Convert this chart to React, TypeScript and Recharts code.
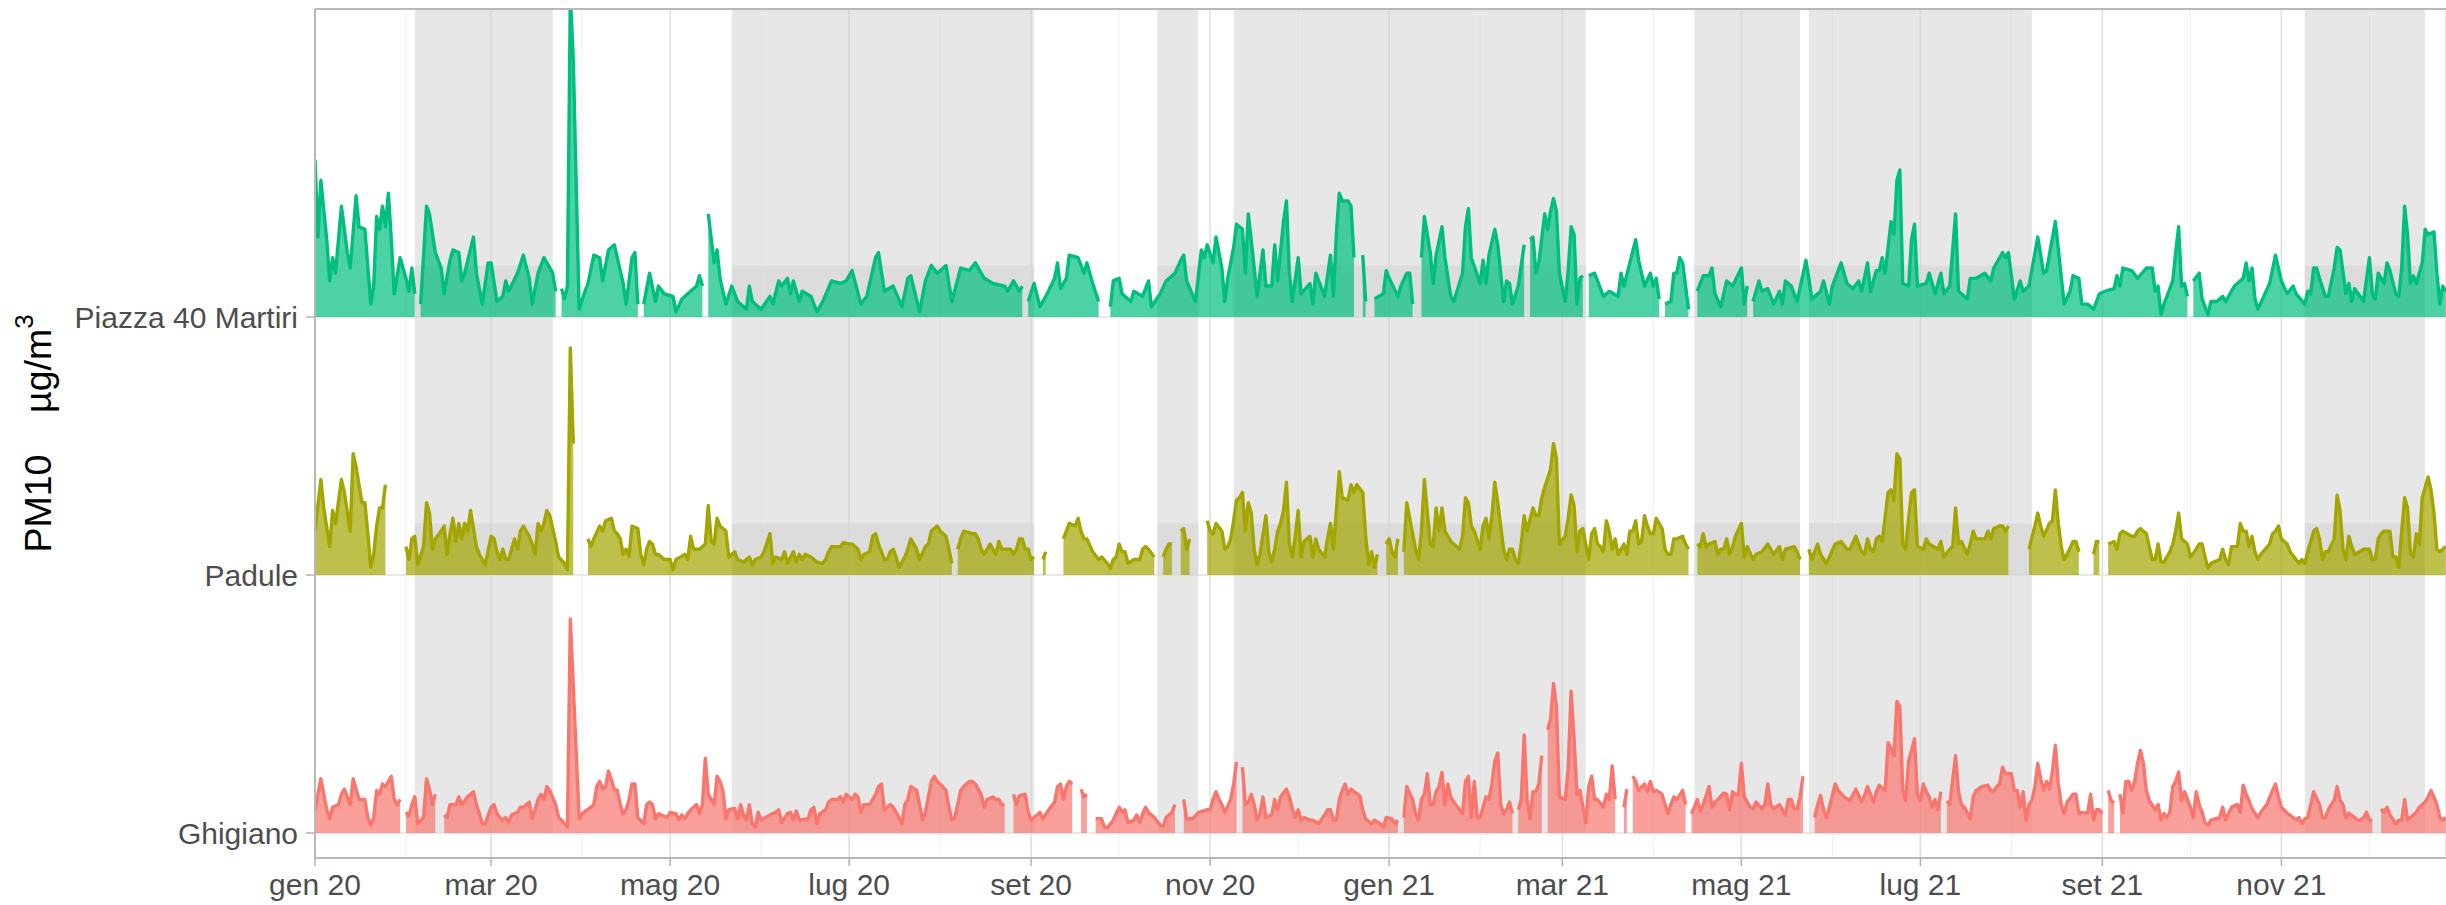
import React from "react";
import {
  ComposedChart,
  Area,
  XAxis,
  YAxis,
  CartesianGrid,
  ReferenceArea,
  ReferenceLine,
} from "recharts";

type Pt = [number, number | null];

// day index from 1 Jan 2020, PM10 in µg/m³ (null = no data)
const PIAZZA: Pt[] = [
  [0,61],[1,31],[2,53],[4,30],[5,14],[6,23],[7,17],[9,43],[11,25],[12,19],[14,47],[15,35],[17,34],[19,5],[20,12],[21,39],[22,34],[23,43],[24,35],[25,48],[26,30],[27,9],[29,23],[31,15],[32,10],[33,19],[34,9],[35,null],
  [36,5],[38,43],[39,40],[41,25],[43,19],[44,9],[46,22],[47,26],[49,25],[50,14],[51,17],[54,31],[55,17],[57,5],[59,21],[60,21],[62,6],[64,8],[65,14],[66,10],[69,17],[71,24],[73,15],[74,5],[76,17],[78,23],[81,17],[82,10],[83,null],
  [84,11],[85,7],[86,12],[87,125],[88,100],[90,3],[92,10],[93,13],[95,24],[97,23],[98,14],[100,26],[102,28],[105,13],[106,5],[108,23],[109,25],[110,5],[111,null],
  [112,5],[114,17],[116,6],[117,12],[119,9],[122,8],[123,2],[125,7],[127,9],[130,12],[131,16],[132,12],[133,null],
  [134,40],[136,21],[137,26],[138,15],[140,5],[142,12],[144,6],[147,3],[148,12],[149,6],[152,3],[155,8],[156,5],[158,14],[159,12],[161,15],[162,9],[163,14],[165,6],[166,10],[169,8],[171,2],[173,6],[176,14],[179,13],[181,14],[183,18],[186,5],[188,8],[191,23],[192,25],[194,10],[197,12],[200,4],[202,15],[203,16],[206,2],[208,14],[210,20],[212,17],[215,20],[217,6],[220,19],[223,18],[225,21],[228,15],[231,13],[235,12],[236,10],[238,14],[240,10],[241,12],[242,null],
  [243,6],[245,13],[247,4],[249,8],[252,15],[253,21],[254,11],[256,15],[257,24],[260,23],[262,17],[263,21],[265,13],[267,6],[269,null],
  [271,4],[272,14],[274,15],[275,9],[278,6],[279,10],[282,8],[284,14],[285,4],[288,9],[290,14],[293,17],[295,22],[296,24],[297,14],[300,6],[302,26],[303,23],[304,28],[306,21],[307,31],[309,19],[310,6],[311,15],[313,27],[314,36],[316,34],[317,17],[318,40],[319,30],[321,8],[323,26],[324,12],[326,12],[327,28],[328,14],[330,37],[331,45],[332,17],[333,6],[335,23],[336,9],[339,13],[340,5],[341,17],[344,8],[346,24],[347,8],[348,32],[349,48],[350,45],[352,45],[353,43],[354,23],[355,null],
  [357,24],[358,6],[360,null],
  [361,7],[364,9],[365,18],[366,15],[369,8],[370,12],[372,17],[373,17],[374,5],[375,null],
  [377,23],[378,39],[380,25],[381,13],[382,24],[384,35],[385,23],[387,8],[388,6],[391,17],[392,35],[393,42],[394,23],[397,13],[398,22],[399,13],[400,24],[402,34],[403,28],[405,6],[406,14],[407,13],[408,5],[410,12],[412,28],[413,null],
  [414,30],[415,31],[416,17],[417,21],[419,40],[420,34],[421,41],[422,46],[423,41],[424,17],[426,6],[427,18],[428,35],[429,32],[430,5],[431,15],[432,16],[433,null],
  [434,16],[436,17],[439,8],[441,10],[444,8],[445,17],[446,12],[448,21],[450,30],[451,22],[453,12],[455,17],[456,12],[457,15],[458,7],[459,null],
  [460,5],[462,6],[463,17],[464,17],[465,23],[466,21],[468,3],[470,null],
  [471,10],[473,16],[475,16],[476,19],[477,9],[479,4],[481,14],[483,12],[486,19],[487,5],[488,12],[489,null],
  [490,6],[492,14],[493,10],[495,11],[497,5],[499,10],[500,5],[501,14],[503,12],[505,6],[508,22],[509,15],[510,7],[513,10],[514,14],[516,5],[517,12],[520,21],[522,13],[524,11],[526,14],[527,10],[529,21],[530,10],[532,18],[533,18],[534,23],[535,17],[537,37],[538,32],[539,53],[540,57],[541,13],[543,12],[544,30],[545,36],[546,12],[549,13],[550,17],[552,9],[554,17],[555,9],[557,12],[559,40],[560,10],[563,7],[564,15],[566,15],[569,17],[571,14],[572,19],[575,25],[576,23],[577,25],[579,7],[581,14],[582,10],[584,12],[587,31],[589,17],[590,18],[593,37],[596,5],[598,10],[599,16],[601,15],[602,5],[604,5],[605,4],[606,3],[608,9],[610,10],[613,11],[614,16],[615,12],[616,19],[619,18],[621,15],[624,19],[626,19],[627,10],[628,12],[629,1],[630,5],[633,14],[634,25],[635,35],[636,12],[637,13],[638,8],[639,null],
  [640,14],[642,17],[643,7],[645,1],[646,6],[648,6],[650,8],[651,6],[654,12],[657,15],[658,21],[659,14],[660,19],[661,7],[662,3],[664,8],[666,13],[668,24],[669,19],[670,14],[672,9],[674,12],[675,9],[678,5],[679,10],[680,9],[681,19],[682,19],[683,15],[685,8],[686,8],[688,19],[689,27],[690,26],[692,9],[693,13],[694,6],[695,11],[698,6],[700,23],[701,9],[702,7],[703,17],[705,13],[706,21],[707,18],[709,9],[710,8],[711,19],[712,43],[713,32],[714,13],[715,16],[716,13],[718,21],[719,34],[720,32],[722,33],[723,17],[724,5],[725,12],[726,10],
];

const PADULE: Pt[] = [
  [0,17],[2,37],[3,26],[5,11],[6,25],[7,20],[9,37],[10,32],[12,17],[13,47],[14,42],[16,28],[17,28],[18,16],[19,3],[20,8],[21,19],[22,26],[23,26],[24,35],[25,null],
  [31,11],[32,6],[33,14],[34,15],[35,4],[37,11],[38,28],[39,24],[40,10],[41,14],[43,17],[44,19],[45,8],[46,16],[47,22],[48,13],[49,20],[50,14],[51,20],[52,17],[53,25],[55,11],[56,8],[58,4],[60,15],[61,14],[62,9],[63,6],[64,10],[65,6],[66,6],[68,14],[69,10],[70,17],[71,19],[73,15],[74,12],[75,8],[76,20],[77,17],[78,20],[79,25],[80,23],[82,13],[83,7],[85,4.5],[86,2],[87,88],[88,51],[89,null],
  [93,14],[94,11],[95,14],[97,19],[98,17],[99,21],[101,22],[102,17],[103,16],[104,14],[105,8],[106,10],[107,7],[108,19],[110,18],[111,8],[112,4],[113,10],[114,13],[115,12],[116,8],[117,8],[119,6],[121,6],[122,2],[123,6],[126,8],[127,6],[128,15],[129,10],[130,10],[131,10],[133,12],[134,27],[135,13],[136,12],[137,22],[138,19],[140,17],[141,7],[143,9],[144,6],[146,5],[148,7],[149,4],[150,6],[152,7],[153,9],[155,16],[156,4.5],[157,7],[159,6],[160,9],[161,4.5],[163,9],[164,5],[165,8],[166,6],[167,8],[169,7],[171,5],[173,4.5],[174,6],[175,9],[176,11],[179,11],[180,12.5],[182,12],[183,12],[185,10],[186,6],[187,8],[189,9],[190,15],[191,16],[192,12],[194,6],[195,6],[196,9],[197,10],[198,7],[199,3],[201,7],[202,10],[203,14],[204,12],[205,10],[206,6],[208,11],[209,12],[210,17],[211,18],[212,19],[213,17],[215,15],[216,10],[217,4.5],[218,null],
  [219,10],[220,14],[221,17],[224,16],[225,16],[226,14],[227,10],[228,8],[230,12],[232,8],[233,13],[234,10],[237,10],[238,8],[239,10],[240,14],[241,14],[242,10],[243,10],[244,6],[245,7],[246,null],
  [248,6],[249,9],[251,null],
  [255,14],[256,17],[257,20],[259,19],[260,22],[261,17],[262,14],[263,14],[265,9],[267,6],[268,7],[270,4.5],[271,2.6],[272,6],[273,7],[274,12],[275,9],[276,9],[277,4.5],[279,6],[281,6],[282,10],[283,11],[284,10],[286,7],[287,null],
  [289,7],[290,10],[291,12],[292,12],[294,null],
  [295,17],[296,18],[297,10],[298,14],[300,null],
  [304,21],[305,17],[306,16],[307,20],[309,17],[310,10],[311,11],[312,14],[313,21],[314,29],[315,30],[316,32],[317,17],[318,28],[319,24],[320,10],[321,4],[322,8],[324,23],[325,9],[326,5],[327,10],[328,17],[329,20],[330,25],[331,36],[332,12],[333,7],[334,15],[335,25],[336,7],[337,13],[339,15],[340,7],[341,14],[342,10],[344,7],[345,14],[346,20],[347,10],[349,40],[350,30],[352,29],[353,35],[354,32],[355,35],[357,32],[358,15],[359,4],[360,9],[361,3],[362,8],[363,null],
  [365,12],[366,14],[367,9],[368,7],[369,14],[370,null],
  [371,9],[372,28],[374,16],[375,10],[376,6],[377,17],[378,37],[380,12],[381,11],[382,26],[383,17],[384,26],[385,17],[387,13],[390,10],[391,15],[392,30],[393,28],[394,19],[395,17],[397,10],[398,19],[399,22],[400,14],[401,23],[402,36],[403,28],[405,10],[406,6],[407,10],[408,10],[409,6],[410,4.5],[411,12],[412,23],[413,17],[415,26],[416,23],[417,23],[418,30],[419,34],[421,41],[422,51],[423,45],[424,12],[426,15],[427,22],[428,31],[429,27],[430,9],[431,17],[432,18],[434,6],[435,16],[436,18],[437,12],[438,11],[439,9],[440,21],[441,17],[442,10],[443,14],[444,8],[446,12],[447,8],[448,17],[449,17],[450,21],[451,12],[452,13],[453,23],[454,19],[455,16],[456,16],[457,22],[459,18],[460,10],[461,8],[462,8],[463,14],[464,14],[466,15],[467,12],[468,10],[470,null],
  [471,12],[472,11],[473,16],[474,11],[475,12],[477,13],[478,8],[479,10],[480,10],[481,14],[482,8],[483,11],[484,15],[486,20],[487,7],[488,11],[490,6],[491,8],[493,9],[495,12],[497,8],[499,11],[500,6],[501,10],[504,11],[505,9],[506,6],[507,null],
  [509,10],[510,6],[512,12],[513,8],[515,4.5],[516,7],[518,12],[520,13],[522,10],[523,10],[525,15],[526,12],[527,9],[528,8],[529,14],[530,10],[531,9],[532,14],[533,15],[534,13],[536,32],[537,33],[538,29],[539,47],[540,45],[541,12],[542,10],[543,22],[544,32],[545,33],[546,11],[548,10],[549,14],[550,12],[553,10],[554,13],[555,7],[557,10],[558,11],[559,26],[560,12],[561,13],[563,8],[564,12],[565,17],[566,14],[569,14],[570,17],[571,14],[572,18],[574,19],[575,19],[576,17],[577,19],[579,null],
  [584,10],[586,19],[587,24],[588,19],[589,15],[591,20],[592,21],[593,33],[594,20],[595,11],[596,6],[597,8],[599,13],[600,13],[601,9],[603,null],
  [606,8],[607,13],[608,13],[610,null],
  [611,12],[613,13],[614,10],[615,16],[616,17],[619,15],[620,15],[621,17],[622,18],[624,16],[625,11],[626,6],[627,6],[628,12],[629,5],[630,5],[632,9],[633,12],[634,17],[635,24],[636,14],[638,12],[639,7],[641,10],[642,12],[643,12],[644,7],[645,2.6],[646,4.5],[649,6],[650,10],[651,6],[652,4],[653,11],[655,11],[656,20],[657,17],[658,17],[659,11],[660,15],[661,9],[662,6],[663,8],[666,12],[667,16],[668,17],[669,19],[670,14],[672,12],[673,9],[676,4.5],[677,6],[678,4.5],[679,9],[681,17],[682,18],[683,14],[684,6],[685,9],[686,9],[688,14],[689,31],[690,25],[691,10],[692,6],[693,15],[694,11],[695,8],[698,10],[700,10],[701,6],[702,6],[703,14],[704,16],[705,17],[707,17],[708,7],[709,7],[710,3],[711,17],[712,30],[713,26],[714,8],[715,7],[716,16],[717,12],[718,30],[720,38],[721,33],[722,24],[723,10],[724,9],[725,10],[726,11],
];

const GHIGIANO: Pt[] = [
  [0,9],[2,21],[3,15],[4,9],[5,5.5],[6,10],[8,11],[9,15],[10,17],[12,11],[13,21],[14,17],[15,13],[17,13],[18,6],[19,3],[20,6],[21,16.5],[22,15],[23,19],[24,18],[26,22],[27,13],[28,11],[29,13],[30,null],
  [31,8],[32,6.5],[33,11],[34,14],[35,3.6],[37,6],[38,21],[39,17],[40,11],[41,15],[42,null],
  [44,7],[45,6],[46,11],[48,11],[49,14],[50,11],[52,14],[53,15],[54,16],[55,11],[56,7.5],[57,3.6],[58,3.6],[60,10],[61,11],[62,7.5],[63,6],[64,5],[65,6],[66,4],[67,7],[69,8],[70,10],[71,10],[73,12],[74,5.5],[75,9],[76,13],[77,15],[78,13],[79,18],[80,16.5],[82,11],[83,6],[84,5],[85,3.6],[86,2.3],[87,83],[90,5.5],[91,7.5],[94,10],[95,11],[96,18],[97,20],[98,17],[99,18],[100,24],[102,17],[103,16.5],[104,11],[105,7.5],[106,9],[107,13],[108,19],[109,19],[110,6],[112,3.6],[113,11],[114,12],[115,11],[116,5.5],[117,7.5],[120,6],[121,8],[123,7.5],[124,5],[125,7],[126,5.5],[127,7.5],[128,9],[130,11],[131,7.5],[132,11],[133,29],[134,15],[136,11],[137,22],[138,20],[139,16.5],[140,5.5],[141,9],[143,9.5],[144,5.5],[145,11],[146,7],[147,5],[148,11],[149,3.6],[150,2.3],[151,8],[152,5],[155,7],[157,8],[158,9],[159,4],[161,7.5],[162,8],[163,5],[164,8.5],[165,5],[168,5.5],[169,9],[170,10],[171,3.6],[172,7.5],[174,9],[175,12],[176,13],[177,13],[178,13],[179,14],[180,12],[181,15],[183,13],[184,15],[185,14],[186,8],[187,11],[188,11],[189,11],[191,15],[192,18],[193,19],[194,9],[195,10],[196,11],[197,10],[199,6],[200,3.6],[201,11],[202,13],[203,18],[205,16.5],[206,11],[207,5],[208,8],[209,14],[210,20],[211,22],[212,20],[213,19],[215,16.5],[216,10],[217,5],[218,6],[219,11],[220,16.5],[221,18],[223,20],[224,20],[225,19],[227,15],[228,10],[229,13],[231,14],[232,13],[233,13],[234,11],[235,11],[236,null],
  [238,15],[239,11],[240,14.5],[242,15],[243,8],[244,5],[246,7],[247,8],[248,5.5],[250,9],[252,12],[253,18],[254,19],[255,13],[256,18],[257,20],[258,19],[260,null],
  [261,17],[262,14],[263,15],[265,null],
  [266,5.5],[268,5.5],[269,2.3],[270,2],[272,5],[274,10],[275,8],[276,9],[277,4],[279,5],[280,7],[281,4],[282,7.5],[283,10],[284,8],[286,6],[288,3],[289,2.6],[290,6],[292,8],[293,11],[295,null],
  [296,13],[297,5.5],[299,5.5],[301,8],[304,9],[305,9],[306,13],[307,16],[308,13],[309,11],[310,8],[312,13],[313,19],[314,27.5],[315,null],
  [316,25.5],[317,11],[318,12],[319,15],[320,11],[321,5],[322,7.5],[323,14],[324,6],[326,7],[327,13],[328,9],[329,14],[331,17],[332,14],[333,9.5],[334,6],[335,9],[336,5],[337,6],[339,5],[340,5],[342,3.6],[344,7],[345,9],[346,9],[347,5],[348,5],[349,13],[350,16.5],[351,19],[352,15],[353,17],[354,16],[356,14.5],[357,9],[358,5.5],[360,3.6],[361,5],[363,3.6],[364,2.3],[365,6],[367,5.5],[368,3.6],[369,5],[370,null],
  [371,6],[372,18],[374,13],[375,7.5],[376,5],[377,13],[378,15],[379,23],[380,11],[381,11],[382,16],[383,18],[384,23.5],[385,11],[386,19],[387,14],[388,12],[390,9],[391,7.5],[392,20],[393,22],[394,6],[395,20],[396,6],[397,6],[399,14],[400,13],[401,19],[402,28],[403,31],[404,11],[405,7.5],[406,9],[407,12],[408,7.5],[409,null],
  [410,9],[411,13],[412,38],[413,13],[414,5.5],[415,16],[416,16],[417,19],[418,30],[419,null],
  [420,40],[421,44],[422,58],[423,49],[424,14],[426,13],[427,25],[428,55],[429,36.5],[430,15],[431,16.5],[433,4],[434,18],[435,22],[436,13],[437,13],[439,10],[440,15],[441,13],[442,26],[443,13],[444,null],
  [446,10],[447,17],[448,null],
  [449,22],[450,20],[451,16.5],[453,19],[454,16],[455,20],[456,16],[457,16.5],[459,15],[460,11],[461,7.5],[462,11],[463,14],[464,13],[466,16.5],[467,11],[468,null],
  [469,7.5],[470,10],[471,13],[472,8.5],[473,11],[475,18],[476,10],[477,12],[478,13],[480,15.5],[481,15],[482,9],[483,16],[484,15],[485,15],[486,27],[487,14],[489,10],[490,9.4],[491,12],[493,9.4],[494,11],[495,19],[496,11],[497,9.4],[499,11],[501,7],[502,13],[503,13],[504,9.4],[505,9.4],[506,14],[507,22],[509,null],
  [511,6],[512,11],[513,14.5],[514,9],[515,6],[516,10],[518,19],[519,16.5],[521,14],[523,12.6],[525,17],[527,12],[528,14.5],[529,18],[531,12],[532,16],[533,18.5],[535,16.5],[536,35],[537,33],[538,30],[539,51],[540,49],[541,16.5],[542,12.6],[543,28],[544,32],[545,36.5],[546,15],[547,12.6],[548,19],[549,16],[550,14],[551,10],[552,13],[553,9],[554,16],[555,null],
  [556,12.4],[557,11],[559,30],[560,16],[561,11],[562,10],[564,5.5],[565,14],[566,16.5],[568,18],[570,18.5],[571,16.5],[572,16],[573,18],[574,19],[575,25.5],[576,23],[578,23],[579,16.5],[580,16.5],[581,10],[582,16],[583,5],[584,11],[585,12.6],[586,18],[587,27],[588,21],[589,16.5],[590,20],[591,17],[592,24],[593,34],[594,19],[595,11],[596,7.5],[597,12],[599,15],[600,15],[601,7.5],[602,8],[604,7.7],[605,15],[606,5],[607,9],[608,9],[609,7.5],[610,null],
  [611,16.5],[612,12.6],[613,11.6],[614,null],
  [615,15],[616,7.7],[617,20],[618,20],[619,16.5],[620,20],[621,27],[622,32],[623,27],[624,16.5],[625,12.6],[627,9],[628,11],[629,5],[630,7.5],[631,6],[632,8],[633,18],[634,20],[635,23.6],[636,12.6],[637,16],[639,10],[640,6],[641,16],[642,11],[643,8],[644,4],[645,3],[646,5],[649,6],[650,10],[651,5],[652,7.5],[653,10],[655,11],[656,8],[657,18.5],[658,15],[659,12.6],[660,9.4],[662,6],[663,8],[665,11],[667,16.5],[668,19],[669,14],[670,10],[672,7.7],[674,6],[675,5],[676,6],[677,3.6],[678,5.5],[679,6],[680,11],[681,16],[683,11],[684,6],[685,6],[686,9],[687,11],[688,12.6],[689,18],[690,12.6],[691,11],[692,6],[693,7.7],[695,6],[696,5],[697,5],[698,6],[699,8],[700,5],[701,5],[703,null],
  [704,9.4],[705,8],[706,10],[707,7],[709,3.6],[710,5],[711,5],[712,13],[713,5],[714,6],[716,8],[717,10],[718,11],[719,12],[720,14],[721,16.5],[723,11],[724,6],[725,5],[726,6],
];

const STATIONS = ["Ghigiano", "Padule", "Piazza 40 Martiri"];
const STATION_COLORS = ["#F8766D", "#A3A500", "#00BF7D"];

// first day of each labelled month (days since 1 Jan 2020)
const MONTH_TICKS = [0, 60, 121, 182, 244, 305, 366, 425, 486, 547, 609, 670];
const MONTH_LABELS = [
  "gen 20", "mar 20", "mag 20", "lug 20", "set 20", "nov 20",
  "gen 21", "mar 21", "mag 21", "lug 21", "set 21", "nov 21",
];
const MINOR_MONTHS = [31, 91, 152, 213, 274, 335, 397, 456, 517, 578, 639, 700];

// shaded periods (start day, end day)
const GREY_PERIODS: [number, number][] = [
  [34, 81], [142, 245], [287, 301], [313, 433], [470, 506], [509, 585], [678, 719],
];

const UNIT = 100; // µg/m³ per ridge step
const BAND_H = 1.2;
const X_MAX = 726.1;
const Y_MIN = 0.903;
const Y_MAX = 4.194;

const FONT = "'Liberation Sans', Arial, Helvetica, sans-serif";

function toRows(series: Pt[], base: number) {
  return series.map(([day, v]) => ({ day, y: v == null ? null : base + v / UNIT }));
}

function YTitle(props: any) {
  const vb = props.viewBox || { x: 0, y: 9, width: 315, height: 849 };
  const cx = vb.x + 38;
  const cy = vb.y + vb.height / 2;
  return (
    <text
      x={cx}
      y={cy}
      transform={`rotate(-90, ${cx}, ${cy})`}
      textAnchor="middle"
      dominantBaseline="central"
      fontFamily={FONT}
      fontSize={37.5}
      fill="#000"
    >
      {"PM10\u00a0\u00a0\u00a0\u00a0µg/m"}
      <tspan fontSize={26} dy={-14}>3</tspan>
    </text>
  );
}

export default function App() {
  const series = [GHIGIANO, PADULE, PIAZZA];
  return (
    <div style={{ position: "absolute", left: 0, top: 0, width: 2446, height: 905, background: "#fff" }}>
      <ComposedChart width={2446} height={905} margin={{ top: 9, right: 0, bottom: 0, left: 0 }}>
        <CartesianGrid stroke="#e0e0e0" strokeWidth={1.6} />
        {MINOR_MONTHS.map((d) => (
          <ReferenceLine key={`m${d}`} x={d} stroke="#efefef" strokeWidth={1} zIndex={-90} />
        ))}
        {GREY_PERIODS.flatMap(([a, b]) =>
          [1, 2, 3].map((r) => (
            <ReferenceArea
              key={`g${a}-${r}`}
              x1={a}
              x2={b}
              y1={r}
              y2={Math.min(r + BAND_H, Y_MAX)}
              fill="#d4d4d4"
              fillOpacity={0.55}
              stroke="none"
              zIndex={50}
            />
          ))
        )}
        <XAxis
          type="number"
          dataKey="day"
          domain={[0, X_MAX]}
          allowDataOverflow
          ticks={MONTH_TICKS}
          tickFormatter={(v: number) => MONTH_LABELS[MONTH_TICKS.indexOf(v)]}
          height={47}
          tickSize={8}
          tickMargin={8}
          axisLine={{ stroke: "#b8b8b8", strokeWidth: 2 }}
          tickLine={{ stroke: "#b3b3b3", strokeWidth: 1.5 }}
          tick={{ fontSize: 30, fill: "#4d4d4d", fontFamily: FONT }}
          interval={0}
        />
        <YAxis
          type="number"
          domain={[Y_MIN, Y_MAX]}
          allowDataOverflow
          ticks={[1, 2, 3]}
          tickFormatter={(v: number) => STATIONS[v - 1]}
          width={315}
          tickSize={9}
          tickMargin={8}
          axisLine={{ stroke: "#b8b8b8", strokeWidth: 2 }}
          tickLine={{ stroke: "#b3b3b3", strokeWidth: 1.5 }}
          tick={{ fontSize: 30, fill: "#4d4d4d", fontFamily: FONT }}
          interval={0}
          label={(p: any) => <YTitle {...p} />}
        />
        {[2, 1, 0].map((i) => (
          <Area
            key={STATIONS[i]}
            data={toRows(series[i], i + 1)}
            dataKey="y"
            type="linear"
            baseValue={i + 1}
            stroke={STATION_COLORS[i]}
            strokeWidth={3.4}
            strokeLinejoin="round"
            fill={STATION_COLORS[i]}
            fillOpacity={0.7}
            dot={false}
            activeDot={false}
            connectNulls={false}
            isAnimationActive={false}
          />
        ))}
        <ReferenceLine y={Y_MAX} stroke="#b8b8b8" strokeWidth={2} zIndex={600} />
      </ComposedChart>
    </div>
  );
}
